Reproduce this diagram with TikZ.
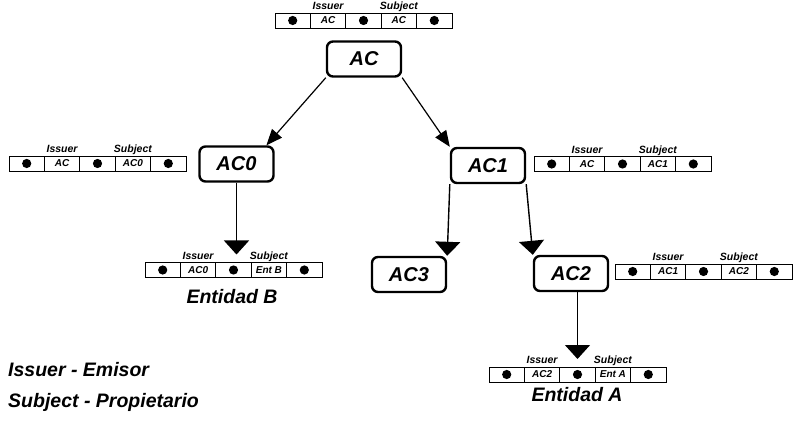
\documentclass[tikz,border=0pt]{standalone}
\usepackage{fontspec}
\setmainfont{Liberation Sans}
\usepackage{tikz}
\usetikzlibrary{arrows.meta,positioning,calc}
% one certificate row: name, left x, centre y, issuer, subject
\newcommand{\certrow}[5]{%
  \node[dotcell, anchor=west] (#1-1) at (#2,#3) {};
  \node[cell, right=0pt of #1-1] (#1-2) {#4};
  \node[dotcell, right=0pt of #1-2] (#1-3) {};
  \node[cell, right=0pt of #1-3] (#1-4) {#5};
  \node[dotcell, right=0pt of #1-4] (#1-5) {};
  \node[tag, above=0pt of #1-2] (#1-i) {Issuer};
  \node[tag, above=0pt of #1-4] (#1-s) {Subject};}

\begin{document}
\begin{tikzpicture}[x=1pt, y=-1pt,
  ca/.style={draw, line width=2.4pt, rounded corners=6pt, minimum width=74pt, minimum height=35pt,
             inner sep=0pt, font=\fontsize{20}{20}\selectfont\bfseries\itshape},
  cell/.style={draw, line width=0.8pt, minimum width=35.4pt, minimum height=15pt, inner sep=0pt,
               outer sep=0pt, font=\fontsize{10}{10}\selectfont\bfseries\itshape},
  dotcell/.style={cell, path picture={\fill (path picture bounding box.center) circle (4.6pt);}},
  tag/.style={font=\fontsize{10.5}{10.5}\selectfont\bfseries\itshape, inner sep=1pt,
              text height=7.5pt, text depth=2pt},
  txt/.style={font=\fontsize{19.5}{19.5}\selectfont\bfseries\itshape, inner sep=0pt},
  arr/.style={-{Triangle[width=13pt,length=16pt]}, line width=1.2pt},
  big/.style={-{Triangle[width=25pt,length=14pt]}, line width=1.4pt}]
\useasboundingbox (0,0) rectangle (798,422);
% authorities
\node[ca] (ac)  at (364,59)    {AC};
\node[ca] (ac0) at (236.5,164) {AC0};
\node[ca] (ac1) at (488,165.5) {AC1};
\node[ca] (ac3) at (409,274.5) {AC3};
\node[ca] (ac2) at (571,273.5) {AC2};
% certificates
\certrow{cac}{275}{20.5}{AC}{AC}
\certrow{cac0}{9}{163.5}{AC}{AC0}
\certrow{cac1}{534}{164}{AC}{AC1}
\certrow{cac2}{615}{271.5}{AC1}{AC2}
\certrow{entb}{145}{270}{AC0}{Ent B}
\certrow{enta}{489}{374.5}{AC2}{Ent A}
\node[txt] (entidadb) at (232,297) {Entidad B};
\node[txt] (entidada) at (577,395) {Entidad A};
% legend
\node[txt, anchor=west] (leg1) at (8,370) {Issuer - Emisor};
\node[txt, anchor=west] (leg2) at (8,402) {Subject - Propietario};
% hierarchy
\draw[arr] (ac.south west) -- (ac0.32);
\draw[arr] (ac.south east) -- (ac1.north west);
\draw[big] (ac1.south west) -- (ac3.north east);
\draw[big] (ac1.south east) -- (ac2.north west);
\draw[big, shorten >=8pt] (ac0.south) -- (ac0.south |- entb-3.north);
\draw[big, shorten >=8pt] (enta-3.north |- ac2.south) -- (enta-3.north);
\end{tikzpicture}
\end{document}
